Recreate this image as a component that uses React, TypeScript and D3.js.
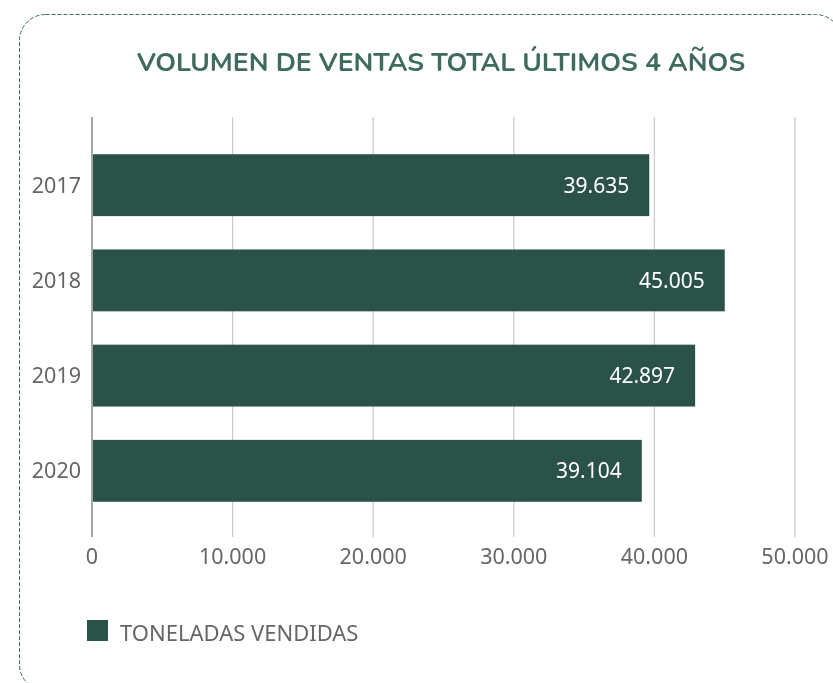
import React from "react";
import * as d3 from "d3";

const categories = ["2017", "2018", "2019", "2020"];
const values = [39635, 45005, 42897, 39104];
const xTicks = [0, 10000, 20000, 30000, 40000, 50000];
const title = "VOLUMEN DE VENTAS TOTAL ÚLTIMOS 4 AÑOS";
const legendLabel = "TONELADAS VENDIDAS";

const W = 833;
const H = 683;
const BAR = "#2b5249";
const TITLE_C = "#3f6a60";
const TEXT_C = "#666666";

const fmt = (v: number) =>
  v === 0 ? "0" : d3.format(",")(v).replace(/,/g, ".");

export default function App() {
  const x = d3.scaleLinear().domain([0, 50000]).range([92, 795]);
  const y = d3
    .scaleBand<string>()
    .domain(categories)
    .range([119, 537])
    .paddingInner(0.35)
    .paddingOuter(0.37);
  const font = "'Noto Sans', 'Open Sans', sans-serif";
  return (
    <div style={{ position: "fixed", left: 0, top: 0 }}>
      <svg width={W} height={H} style={{ display: "block" }}>
        <rect
          x={19.5}
          y={14.5}
          width={822}
          height={676}
          rx={26}
          fill="none"
          stroke="#3d6b5f"
          strokeWidth={1}
          strokeDasharray="4 2"
        />
        <text
          x={441}
          y={71}
          textAnchor="middle"
          fontFamily="'Nunito', 'Lato', 'Open Sans', sans-serif"
          fontWeight={700}
          fontSize={26.5}
          fill={TITLE_C}
        >
          {title}
        </text>
        {xTicks.map((t) => (
          <line
            key={t}
            x1={x(t)}
            x2={x(t)}
            y1={117}
            y2={537}
            stroke={t === 0 ? "#888888" : "#cccccc"}
            strokeWidth={t === 0 ? 1.5 : 1.3}
          />
        ))}
        {categories.map((c, i) => (
          <g key={c}>
            <rect
              x={x(0) + 1}
              y={y(c)}
              width={x(values[i]) - x(0) - 1}
              height={y.bandwidth()}
              fill={BAR}
            />
            <text
              x={x(values[i]) - 20}
              y={(y(c) as number) + y.bandwidth() / 2}
              dy="0.35em"
              textAnchor="end"
              fontFamily={font}
              fontSize={21}
              fill="#ffffff"
            >
              {fmt(values[i])}
            </text>
            <text
              x={81}
              y={(y(c) as number) + y.bandwidth() / 2}
              dy="0.35em"
              textAnchor="end"
              fontFamily={font}
              fontSize={21.5}
              fill={TEXT_C}
            >
              {c}
            </text>
          </g>
        ))}
        {xTicks.map((t) => (
          <text
            key={"l" + t}
            x={x(t)}
            y={556}
            dy="0.35em"
            textAnchor="middle"
            fontFamily={font}
            fontSize={21.5}
            fill={TEXT_C}
          >
            {fmt(t)}
          </text>
        ))}
        <rect x={87} y={620} width={21} height={21} fill={BAR} />
        <text
          x={120}
          y={633}
          dy="0.35em"
          fontFamily={font}
          fontSize={22}
          fill={TEXT_C}
        >
          {legendLabel}
        </text>
      </svg>
    </div>
  );
}
